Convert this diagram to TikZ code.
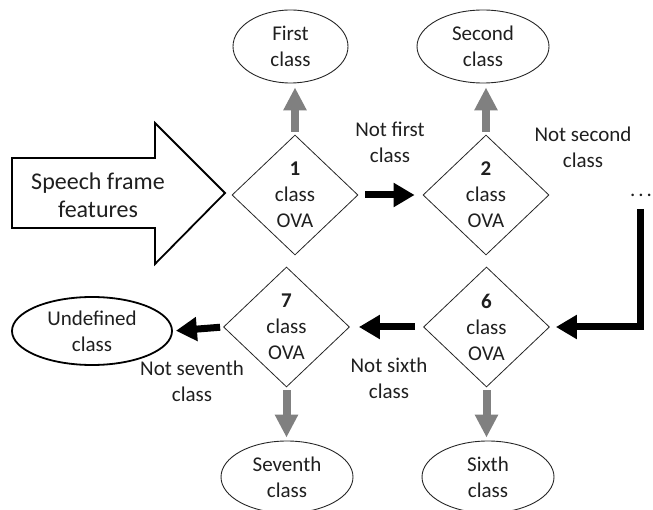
\documentclass[tikz,border=0pt]{standalone}
\usepackage{fontspec}
\setmainfont{Carlito}
\usetikzlibrary{shapes.geometric,arrows.meta}
\begin{document}
\begin{tikzpicture}[x=1pt,y=-1pt,
  txt/.style={font=\fontsize{21}{26}\selectfont, align=center, text=black!88},
  ova/.style={txt, shape=diamond, draw=black!85, line width=0.8pt, minimum width=126pt, minimum height=120pt, inner sep=0pt, aspect=1.05},
  cls/.style={txt, ellipse, draw=black!85, line width=0.9pt, inner sep=0pt},
  grayarr/.style={draw=gray, line width=8pt, -{Triangle[length=23pt,width=22pt]}},
  blackarr/.style={draw=black, line width=7pt, line join=miter, -{Triangle[length=21pt,width=23pt]}},
]
\useasboundingbox (0,0) rectangle (653,510);

% big input arrow
\draw[line width=1.8pt, line join=miter, fill=white] (12,158) -- (155,158) -- (155,123) -- (225,193) -- (155,264) -- (155,228) -- (12,228) -- cycle;
\node[txt, font=\fontsize{24}{28}\selectfont] (feat) at (98,195) {Speech frame\\features};

% decision diamonds
\node[ova] (d1) at (295,195) {\textbf{1}\\class\\OVA};
\node[ova] (d2) at (486,195) {\textbf{2}\\class\\OVA};
\node[ova] (d6) at (486.5,327) {\textbf{6}\\class\\OVA};
\node[ova] (d7) at (286.5,327) {\textbf{7}\\class\\OVA};

% class ellipses
\node[cls, minimum width=115pt, minimum height=73pt] (c1) at (290.5,46.5) {First\\class};
\node[cls, minimum width=132pt, minimum height=73pt] (c2) at (483,46.5) {Second\\class};
\node[cls, minimum width=132pt, minimum height=72pt] (c7) at (287,477) {Seventh\\class};
\node[cls, minimum width=132pt, minimum height=72pt] (c6) at (488,477) {Sixth\\class};
\node[cls, line width=1.8pt, draw=black, minimum width=160pt, minimum height=68pt] (cu) at (92,331) {Undefined\\class};

% labels
\node[txt] (l1) at (390,142) {Not first\\class};
\node[txt] (l2) at (583,147) {Not second\\class};
\node[txt] (l6) at (389,378) {Not sixth\\class};
\node[txt] (l7) at (192,381) {Not seventh\\class};
\node[txt, anchor=base] (dots) at (641,197) {.\hspace{3pt}.\hspace{3pt}.};
\coordinate (ltop) at (640,209);

% gray arrows
\draw[grayarr, shorten <=3pt, shorten >=4pt] (d1.north) -- (d1.north |- c1.south);
\draw[grayarr, shorten <=3pt, shorten >=4pt] (d2.north) -- (d2.north |- c2.south);
\draw[grayarr, shorten <=3pt, shorten >=3pt] (d7.south) -- (d7.south |- c7.north);
\draw[grayarr, shorten <=3pt, shorten >=3pt] (d6.south) -- (d6.south |- c6.north);

% black arrows
\draw[blackarr, shorten <=7pt, shorten >=8pt] (d1.east) -- (d2.west);
\draw[blackarr, shorten >=6pt] (ltop) |- (d6.east);
\draw[blackarr, shorten <=8pt, shorten >=9pt] (d6.west) -- (d7.east);
\draw[blackarr, shorten <=3pt, shorten >=3pt] (d7.west) -- (cu.east);
\end{tikzpicture}
\end{document}
